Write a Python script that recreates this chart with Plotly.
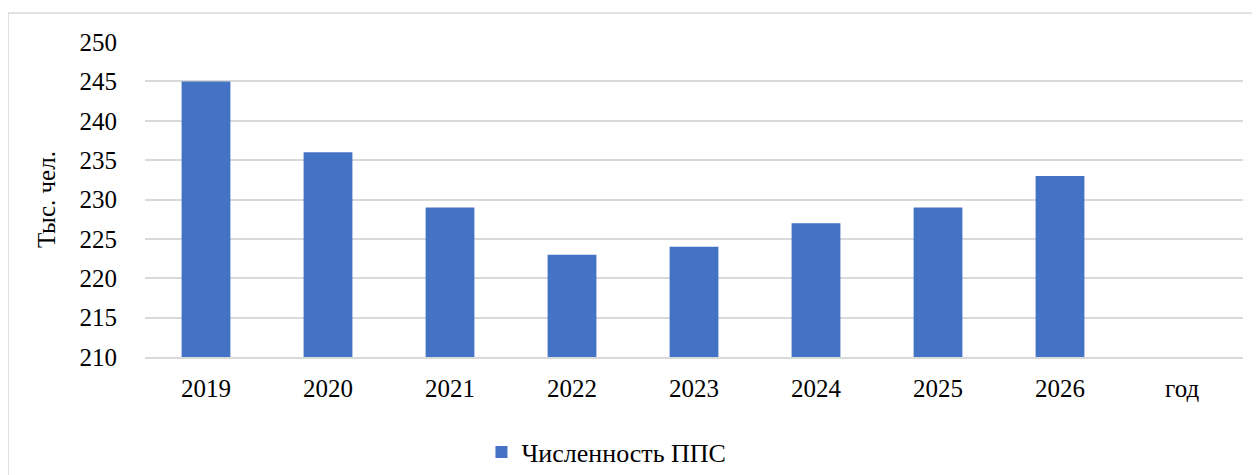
import plotly.graph_objects as go

years = ["2019", "2020", "2021", "2022", "2023", "2024", "2025", "2026"]
values = [245, 236, 229, 223, 224, 227, 229, 233]
series_name = "Численность ППС"
y_title = "Тыс. чел."
x_title = "год"
y_ticks = [210, 215, 220, 225, 230, 235, 240, 245, 250]

FONT = "'Liberation Serif', 'Times New Roman', Times, 'DejaVu Serif', serif"
FS = 25
OFF = 8  # page body margin
W, H = 1260 - OFF, 475 - OFF
# target plot area in window pixels: x 145..1243, y 42..357
L = 145 - OFF
T = 42 - OFF
R = 1260 - 1243
B = (OFF + H) - 357

fig = go.Figure()
fig.add_trace(go.Bar(
    x=list(range(len(years))), y=values, name=series_name,
    marker=dict(color="#4472C4", line=dict(width=0)),
    width=0.4, showlegend=True,
))

pw = W - L - R
ph = H - T - B

def px_to_paper_x(px):
    return (px - OFF - L) / pw

def px_to_paper_y(py):
    return (OFF + H - B - py) / ph

fig.update_layout(
    width=W, height=H,
    margin=dict(l=L, r=R, t=T, b=B),
    paper_bgcolor="white", plot_bgcolor="white",
    font=dict(family=FONT, size=FS, color="#000000"),
    xaxis=dict(
        range=[-0.5, len(years) + 0.5],
        tickmode="array",
        tickvals=list(range(len(years))),
        ticktext=years,
        showgrid=False, zeroline=False,
        showline=True, linecolor="#d9d9d9", linewidth=1.5,
        ticks="outside", ticklen=8, tickcolor="rgba(0,0,0,0)",
        tickfont=dict(family=FONT, size=FS),
        fixedrange=True,
    ),
    yaxis=dict(
        range=[210, 250],
        tickmode="array", tickvals=y_ticks,
        showgrid=True, gridcolor="#d9d9d9", gridwidth=1.5,
        zeroline=False, showline=False,
        ticks="outside", ticklen=22, tickcolor="rgba(0,0,0,0)",
        tickfont=dict(family=FONT, size=FS),
        title=dict(text=y_title, font=dict(family=FONT, size=FS), standoff=16),
    ),
    legend=dict(
        orientation="h", xref="container", yref="container",
        x=0.478, xanchor="center", y=(475 - 452) / H, yanchor="middle",
        font=dict(family=FONT, size=26),
        itemwidth=30,
    ),
    annotations=[dict(
        x=len(years), y=0, xref="x", yref="paper",
        text=x_title, showarrow=False, yanchor="top", yshift=-16,
        font=dict(family=FONT, size=FS),
    )],
    shapes=[
        dict(type="line", xref="paper", yref="paper",
             x0=px_to_paper_x(8), x1=px_to_paper_x(1270),
             y0=px_to_paper_y(13), y1=px_to_paper_y(13),
             line=dict(color="#d9d9d9", width=1.5)),
        dict(type="line", xref="paper", yref="paper",
             x0=px_to_paper_x(8), x1=px_to_paper_x(8),
             y0=px_to_paper_y(13), y1=px_to_paper_y(480),
             line=dict(color="#d9d9d9", width=1.5)),
    ],
)

fig.write_html("out.html")
